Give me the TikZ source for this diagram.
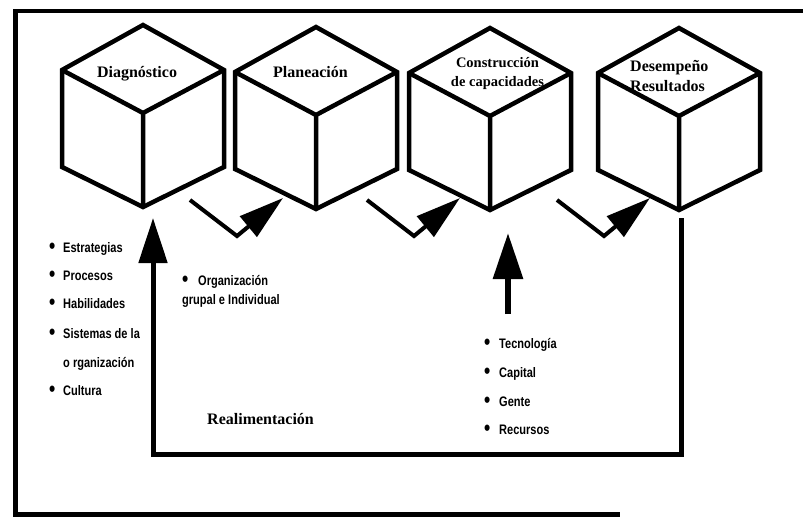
\documentclass[tikz,border=0pt]{standalone}
\usepackage{fontspec}
\setmainfont{Liberation Serif}
\newfontfamily\condsans[FakeStretch=0.8]{Liberation Sans}
\usetikzlibrary{arrows.meta}
\newcommand\bul[1]{\makebox[#1][l]{\raisebox{-1.5pt}{\scalebox{1.6}{\textbullet}}}}
\tikzset{
  edge/.style={line width=4.5pt, line join=miter},
  frame/.style={line width=4.5pt, line join=miter},
  bent/.style={line width=4pt, line join=miter, -{Triangle[length=45pt,width=26pt]}},
  feedback/.style={line width=5pt, line join=miter, -{Triangle[length=45pt,width=28pt]}},
  input/.style={line width=6pt, -{Triangle[length=46pt,width=29pt]}},
  cubelabel/.style={font=\fontsize{16}{19}\selectfont\bfseries, inner sep=0pt, anchor=base},
  item/.style={font=\condsans\bfseries\fontsize{13.8}{16}\selectfont, inner sep=0pt, anchor=base west},
  cube/.pic={
    \coordinate (-top) at (0,0);
    \coordinate (-lt) at (-81,45);
    \coordinate (-rt) at (81,45);
    \coordinate (-mid) at (0,88);
    \coordinate (-lb) at (-81,142);
    \coordinate (-rb) at (81,142);
    \coordinate (-bot) at (0,182);
    \draw[edge] (-top) -- (-rt) -- (-rb) -- (-bot) -- (-lb) -- (-lt) -- cycle;
    \draw[edge] (-lt) -- (-mid) -- (-rt) (-mid) -- (-bot);
  }
}
\begin{document}
\begin{tikzpicture}[x=1pt,y=-1pt]
  \useasboundingbox (0,0) rectangle (803,517);

  % outer frame
  \draw[frame] (803,11) -- (15.5,11) -- (15.5,514.5) -- (620,514.5);

  % the four stage cubes
  \pic (c1) at (143,25) {cube};
  \pic (c2) at (316,27) {cube};
  \pic (c3) at (490,28) {cube};
  \pic (c4) at (679,28) {cube};

  % stage titles on the top faces
  \node[cubelabel] (t1) at (137,77) {Diagnóstico};
  \node[cubelabel] (t2) at (310.5,77) {Planeación};
  \node[cubelabel, font=\fontsize{14.5}{19}\selectfont\bfseries] (t3a) at (497.5,67) {Construcción};
  \node[cubelabel, font=\fontsize{14.5}{19}\selectfont\bfseries] (t3b) at (497.5,86) {de capacidades};
  \node[cubelabel, anchor=base west] (t4a) at (630,71) {Desempeño};
  \node[cubelabel, anchor=base west] (t4b) at (630,91) {Resultados};

  % bent arrows between consecutive stages
  \foreach \i/\sx in {1/190, 2/367, 3/557} {
    \coordinate (s\i) at (\sx,200);
    \coordinate (k\i) at (\sx+47,236);
    \coordinate (h\i) at (\sx+93,198);
    \draw[bent] (s\i) -- (k\i) -- (h\i);
  }

  % feedback loop from the last stage back to the first
  \coordinate (fbstart) at (681,218);
  \coordinate (fbend) at (153,218);
  \draw[feedback] (fbstart) -- (681,454) -| (fbend);
  \node[cubelabel, anchor=base west] (fb) at (207,424) {Realimentación};

  % resources feeding capacity building
  \coordinate (instart) at (508,314);
  \coordinate (inend) at (508,233);
  \draw[input] (instart) -- (inend);

  % diagnosis items
  \node[item] (d1) at (49,252) {\bul{14pt}Estrategias};
  \node[item] (d2) at (49,280) {\bul{14pt}Procesos};
  \node[item] (d3) at (49,308) {\bul{14pt}Habilidades};
  \node[item] (d4) at (49,338) {\bul{14pt}Sistemas de la};
  \node[item] (d5) at (63,367) {o rganización};
  \node[item] (d6) at (49,395) {\bul{14pt}Cultura};

  % planning item
  \node[item] (p1) at (182,285) {\bul{16pt}Organización};
  \node[item] (p2) at (182,304) {grupal e Individual};

  % resource items
  \node[item] (r1) at (484,348) {\bul{15pt}Tecnología};
  \node[item] (r2) at (484,377) {\bul{15pt}Capital};
  \node[item] (r3) at (484,406) {\bul{15pt}Gente};
  \node[item] (r4) at (484,434) {\bul{15pt}Recursos};
\end{tikzpicture}
\end{document}
